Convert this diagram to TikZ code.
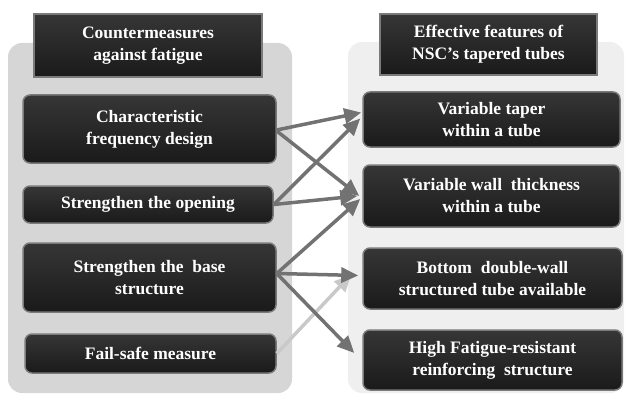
\documentclass[tikz,border=0pt]{standalone}
\usepackage{fontspec}
\setmainfont{Liberation Serif}
\usetikzlibrary{arrows.meta}
\definecolor{panelL}{HTML}{D6D6D6}
\definecolor{panelR}{HTML}{EFEFEF}
\definecolor{boxtop}{HTML}{363636}
\definecolor{boxbot}{HTML}{1A1A1A}
\definecolor{boxline}{HTML}{7A7A7A}
\definecolor{arrowdark}{HTML}{727272}
\definecolor{arrowlight}{HTML}{C9C9C9}
\tikzset{
  hdrbox/.style={draw=boxline, line width=1.5pt, top color=boxtop, bottom color=boxbot,
    text=white, font=\fontsize{17.5}{22}\selectfont\bfseries, align=center, inner sep=0pt},
  itembox/.style={hdrbox, rounded corners=7pt},
  conn/.style={arrowdark, line width=3.5pt, -{Triangle[length=17pt,width=15pt]}},
  connlight/.style={conn, arrowlight},
}
\begin{document}
\begin{tikzpicture}[x=1pt,y=-1pt]
\useasboundingbox (0,0) rectangle (627,396);
% panels
\fill[panelL, rounded corners=14pt] (8,43) rectangle (292,393);
\fill[panelR, rounded corners=14pt] (348,42) rectangle (624,393);
% headers
\node[hdrbox, minimum width=228pt, minimum height=63pt] (lh) at (148,45.5) {Countermeasures\\ against fatigue};
\node[hdrbox, minimum width=217pt, minimum height=61pt] (rh) at (488.5,44.5) {Effective features of\\ NSC's tapered tubes};
% left items
\node[itembox, minimum width=253pt, minimum height=68pt] (l1) at (149.5,129) {Characteristic\\ frequency design};
\node[itembox, minimum width=250pt, minimum height=37pt] (l2) at (148,204.5) {Strengthen the opening};
\node[itembox, minimum width=253pt, minimum height=69pt] (l3) at (149.5,277.5) {Strengthen the\ \ base\\ structure};
\node[itembox, minimum width=251pt, minimum height=39pt] (l4) at (150.5,353.5) {Fail-safe measure};
% right items
\node[itembox, minimum width=257pt, minimum height=55pt] (r1) at (491.5,119.5) {Variable taper\\ within a tube};
\node[itembox, minimum width=257pt, minimum height=62pt] (r2) at (491.5,196) {Variable wall\ \ thickness\\ within a tube};
\node[itembox, minimum width=259pt, minimum height=61pt] (r3) at (492.5,278.5) {Bottom\ \ double-wall\\ structured tube available};
\node[itembox, minimum width=259pt, minimum height=60pt] (r4) at (492.5,360) {High Fatigue-resistant\\ reinforcing\ \ structure};
% connectors
\draw[connlight] (l4.east) -- ([xshift=-11pt,yshift=4pt]r3.west);
\draw[conn] ([yshift=-1pt]l1.east) -- ([xshift=-1pt,yshift=7pt]r1.west);
\draw[conn] ([yshift=-2pt]l1.east) -- ([xshift=-3pt]r2.west);
\draw[conn] (l2.east) -- ([xshift=-2pt,yshift=1pt]r1.west);
\draw[conn] (l2.east) -- ([xshift=-5pt]r2.west);
\draw[conn] ([yshift=4pt]l3.east) -- ([xshift=-2pt,yshift=-3pt]r2.west);
\draw[conn] ([yshift=4pt]l3.east) -- ([xshift=-4pt,yshift=3pt]r3.west);
\draw[conn] ([yshift=4pt]l3.east) -- ([xshift=-8pt,yshift=7pt]r4.west);
\end{tikzpicture}
\end{document}
